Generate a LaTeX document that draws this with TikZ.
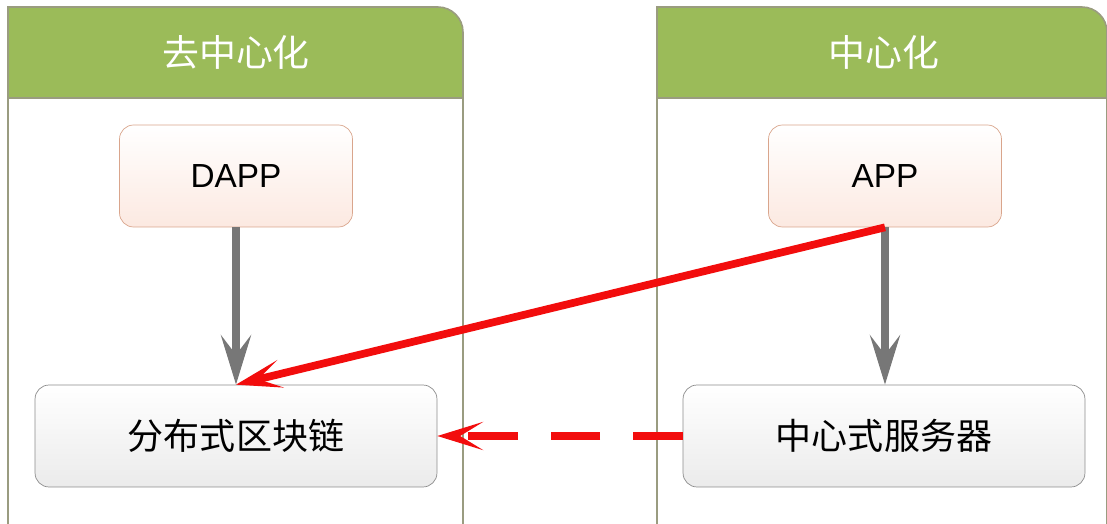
\documentclass[tikz,border=0pt]{standalone}
\usepackage{fontspec}
\setmainfont{Liberation Sans}
\newfontfamily\cjk{Noto Sans CJK SC}
\usetikzlibrary{arrows.meta,positioning}

\definecolor{hdrgreen}{HTML}{9BBB59}
\definecolor{frameline}{HTML}{9A9C80}
\definecolor{appline}{HTML}{D9A58C}
\definecolor{appfill}{HTML}{FCE9E1}
\definecolor{sysline}{HTML}{8C8C8C}
\definecolor{sysfill}{HTML}{EBEBEB}
\definecolor{flowgray}{HTML}{777777}
\definecolor{flowred}{HTML}{F20D0D}

\begin{document}
\begin{tikzpicture}[x=0.02cm,y=-0.02cm,
    appbox/.style={draw=appline,rounded corners=8pt,top color=white,bottom color=appfill,
                   minimum width=4.66cm,minimum height=2.04cm,font=\fontsize{19}{22}\selectfont},
    sysbox/.style={draw=sysline,rounded corners=8pt,top color=white,bottom color=sysfill,
                   minimum width=8.04cm,minimum height=2.04cm,font=\cjk\fontsize{20.5}{24}\selectfont},
    title/.style={text=white,font=\cjk\fontsize{21}{24}\selectfont},
    lane/.style={draw=frameline,line width=0.9pt},
    down/.style={-{Stealth[length=28pt,width=17pt,inset=11pt]},draw=flowgray,line width=4.4pt},
    jump/.style={-{Stealth[length=26pt,width=16pt,inset=13pt]},draw=flowred,line width=4.4pt}]
  \useasboundingbox (0,0) rectangle (1107,524);

  % the two lanes
  \fill[hdrgreen] (8,98) -- (8,7) -- (438,7) arc[start angle=90,end angle=0,radius=0.5cm] -- (463,98) -- cycle;
  \draw[lane] (8,530) -- (8,7) -- (438,7) arc[start angle=90,end angle=0,radius=0.5cm] -- (463,530);
  \draw[lane] (8,98) -- (463,98);
  \fill[hdrgreen] (657,98) -- (657,7) -- (1082,7) arc[start angle=90,end angle=0,radius=0.5cm] -- (1107,98) -- cycle;
  \draw[lane] (657,530) -- (657,7) -- (1082,7) arc[start angle=90,end angle=0,radius=0.5cm] -- (1107,530);
  \draw[lane] (657,98) -- (1107,98);

  \node[title] (T1) at (236,52) {去中心化};
  \node[title] (T2) at (884,52) {中心化};

  \node[appbox] (DAPP) at (236,176) {DAPP};
  \node[appbox] (APP)  at (885,176) {APP};
  \node[sysbox] (CHAIN) at (236,436) {分布式区块链};
  \node[sysbox] (SERVER) at (884,436) {中心式服务器};

  \draw[down] (DAPP) -- (CHAIN);
  \draw[down] (APP.south) -- (SERVER.north -| APP.south);
  \draw[jump] (APP.south) -- (CHAIN.north);
  \draw[jump,dash pattern=on 28pt off 19pt] (SERVER.west) -- (CHAIN.east);
\end{tikzpicture}
\end{document}
